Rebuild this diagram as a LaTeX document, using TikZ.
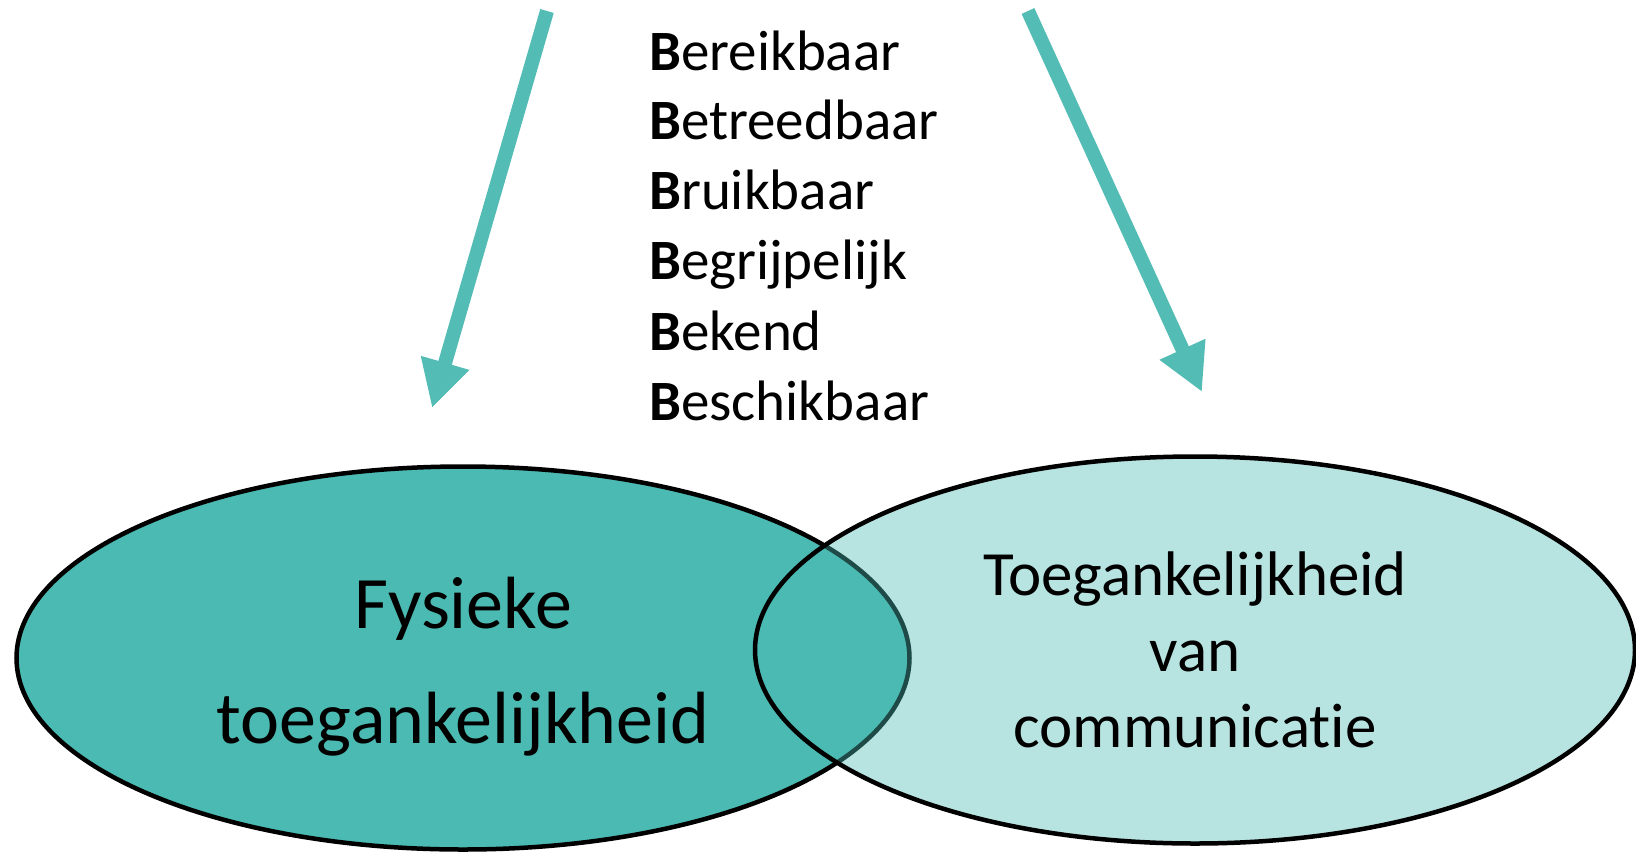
\documentclass[tikz,border=0pt]{standalone}
\usepackage{fontspec}
\setmainfont[RawFeature={-liga}]{Carlito}
\usetikzlibrary{arrows.meta,shapes.geometric}
\definecolor{tealA}{HTML}{4BBAB3}
\definecolor{tealArrow}{HTML}{53BCB4}
\begin{document}
\begin{tikzpicture}[x=1pt,y=-1pt,
  venn/.style={ellipse, draw=black, line width=4.5pt, inner sep=0pt},
  bigarrow/.style={draw=tealArrow, line width=14pt, -{Triangle[length=47pt,width=47pt]}},
  item/.style={anchor=base west, inner sep=0pt, font=\fontsize{57}{70}\selectfont},
  biglbl/.style={anchor=base, inner sep=0pt, font=\fontsize{74}{90}\selectfont},
  midlbl/.style={anchor=base, inner sep=0pt, font=\fontsize{63}{76}\selectfont}]
\useasboundingbox (0,0) rectangle (1636,852);
% ellipses
\node[venn, fill=tealA, minimum width=893pt, minimum height=383pt] (fys) at (463,658) {};
\node[venn, fill=tealA, fill opacity=0.4, minimum width=880pt, minimum height=387pt] (com) at (1195,650) {};
% labels
\node[biglbl] (f1) at (463,628) {Fysieke};
\node[biglbl] (f2) at (463,743) {toegankelijkheid};
\node[midlbl] (c1) at (1195,595) {Toegankelijkheid};
\node[midlbl] (c2) at (1195,671) {van};
\node[midlbl] (c3) at (1195,747) {communicatie};
% list
\node[item] (b1) at (649,70) {\textbf{B}ereikbaar};
\node[item] (b2) at (649,139) {\textbf{B}etreedbaar};
\node[item] (b3) at (649,209) {\textbf{B}ruikbaar};
\node[item] (b4) at (649,279) {\textbf{B}egrijpelijk};
\node[item] (b5) at (649,350) {\textbf{B}ekend};
\node[item] (b6) at (649,420) {\textbf{B}eschikbaar};
% arrows
\coordinate (a1s) at (547,11);
\coordinate (a1e) at (432,408);
\coordinate (a2s) at (1028,11);
\coordinate (a2e) at (1202,392);
\draw[bigarrow] (a1s) -- (a1e);
\draw[bigarrow] (a2s) -- (a2e);
\end{tikzpicture}
\end{document}
